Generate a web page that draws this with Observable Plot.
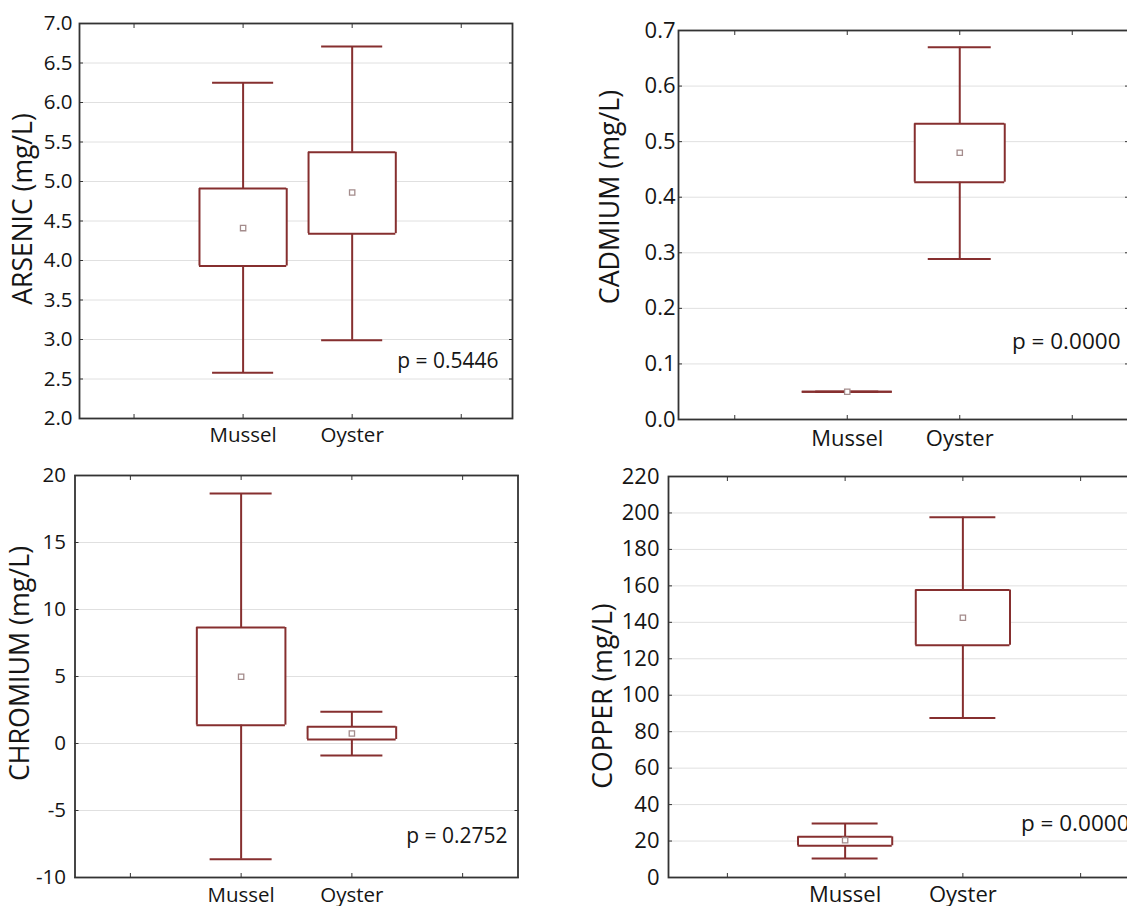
<!DOCTYPE html>
<html>
<head>
<meta charset="utf-8">
<script src="https://cdn.jsdelivr.net/npm/d3@7"></script>
<script src="https://cdn.jsdelivr.net/npm/@observablehq/plot@0.6"></script>
<style>
html, body { margin: 0; padding: 0; overflow: hidden; background: #fff; }
#wrap { position: relative; width: 1127px; height: 906px; overflow: hidden; background: #fff; }
.panel { position: absolute; }
</style>
</head>
<body>
<div id="wrap"></div>
<script>
// ---------- DATA ----------
const groups = ["Mussel", "Oyster"];
const xTickValues = [0, 1, 2, 3];
const xTickLabels = ["", "Mussel", "Oyster", ""];

const metals = ["ARSENIC", "CADMIUM", "CHROMIUM", "COPPER"];
const units = "(mg/L)";
const pValues = ["p = 0.5446", "p = 0.0000", "p = 0.2752", "p = 0.0000"];

// mean, box (low/high) and whisker (low/high) per group [Mussel, Oyster]
const arsenicMean      = [4.41, 4.86];
const arsenicBoxLow    = [3.93, 4.34];
const arsenicBoxHigh   = [4.91, 5.37];
const arsenicWhiskLow  = [2.58, 2.99];
const arsenicWhiskHigh = [6.25, 6.71];

const cadmiumMean      = [0.05, 0.480];
const cadmiumBoxLow    = [0.05, 0.427];
const cadmiumBoxHigh   = [0.05, 0.532];
const cadmiumWhiskLow  = [0.05, 0.289];
const cadmiumWhiskHigh = [0.05, 0.670];

const chromiumMean      = [4.98, 0.75];
const chromiumBoxLow    = [1.37, 0.30];
const chromiumBoxHigh   = [8.66, 1.25];
const chromiumWhiskLow  = [-8.63, -0.90];
const chromiumWhiskHigh = [18.66, 2.37];

const copperMean      = [20.5, 142.5];
const copperBoxLow    = [17.4, 127.4];
const copperBoxHigh   = [22.3, 157.7];
const copperWhiskLow  = [10.4, 87.5];
const copperWhiskHigh = [29.6, 197.7];

// y tick values
const arsenicTicks  = [2.0, 2.5, 3.0, 3.5, 4.0, 4.5, 5.0, 5.5, 6.0, 6.5, 7.0];
const cadmiumTicks  = [0.0, 0.1, 0.2, 0.3, 0.4, 0.5, 0.6, 0.7];
const chromiumTicks = [-10, -5, 0, 5, 10, 15, 20];
const copperTicks   = [0, 20, 40, 60, 80, 100, 120, 140, 160, 180, 200, 220];

// ---------- STYLE ----------
const LINE = "#862f2f";
const LW = 2;
const MEAN_STROKE = "#a48c8c";
const FRAME = "#333333";
const GRID = "#e0e0e0";
const TEXT = "#151515";
const FONT = "'Open Sans', sans-serif";
const BOX_HALF = 0.4;
const CAP_HALF = 0.28;

const oneDecimal = d => d.toFixed(1);
const integer = d => String(d);

function rowsFor(mean, bLo, bHi, wLo, wHi) {
  return groups.map((g, i) => ({
    group: g,
    pos: xTickLabels.indexOf(g),
    mean: mean[i], bLo: bLo[i], bHi: bHi[i], wLo: wLo[i], wHi: wHi[i]
  }));
}

const panels = [
  {
    metal: metals[0], p: pValues[0],
    rows: rowsFor(arsenicMean, arsenicBoxLow, arsenicBoxHigh, arsenicWhiskLow, arsenicWhiskHigh),
    yDomain: [2, 7], yTicks: arsenicTicks, yFormat: oneDecimal, xDomain: [-0.5, 3.47],
    left: 0, top: 0, width: 540, height: 455, mL: 79, mR: 28, mT: 23, mB: 37,
    fs: 20.5, labelFs: 26.5, yPad: 7, xPad: 8.5,
    labDx: -56, labDy: -12, pDx: -14, pDy: -57
  },
  {
    metal: metals[1], p: pValues[1],
    rows: rowsFor(cadmiumMean, cadmiumBoxLow, cadmiumBoxHigh, cadmiumWhiskLow, cadmiumWhiskHigh),
    yDomain: [0, 0.7], yTicks: cadmiumTicks, yFormat: oneDecimal, xDomain: [-0.5, 3.5],
    left: 560, top: 0, width: 600, height: 455, mL: 118, mR: 32, mT: 30, mB: 36,
    fs: 22, labelFs: 26.8, yPad: 3, xPad: 10.5,
    labDx: -68, labDy: -28, pDx: -8, pDy: -78
  },
  {
    metal: metals[2], p: pValues[2],
    rows: rowsFor(chromiumMean, chromiumBoxLow, chromiumBoxHigh, chromiumWhiskLow, chromiumWhiskHigh),
    yDomain: [-10, 20], yTicks: chromiumTicks, yFormat: integer, xDomain: [-0.5, 3.5],
    left: 0, top: 455, width: 545, height: 451, mL: 74.5, mR: 27.5, mT: 20, mB: 29,
    fs: 20.5, labelFs: 26.8, yPad: 9, xPad: 10,
    labDx: -54.5, labDy: -13, pDx: -10.5, pDy: -41
  },
  {
    metal: metals[3], p: pValues[3],
    rows: rowsFor(copperMean, copperBoxLow, copperBoxHigh, copperWhiskLow, copperWhiskHigh),
    yDomain: [0, 220], yTicks: copperTicks, yFormat: integer, xDomain: [-0.5, 3.5],
    left: 560, top: 455, width: 600, height: 451, mL: 108, mR: 21, mT: 21, mB: 29,
    fs: 22, labelFs: 26.5, yPad: 9, xPad: 8.5,
    labDx: -65, labDy: 19, pDx: -10, pDy: -54
  }
];

const wrap = document.getElementById("wrap");

for (const c of panels) {
  const rows = c.rows;
  const chart = Plot.plot({
    width: c.width,
    height: c.height,
    marginLeft: c.mL,
    marginRight: c.mR,
    marginTop: c.mT,
    marginBottom: c.mB,
    x: { domain: c.xDomain },
    y: { domain: c.yDomain },
    style: {
      fontFamily: FONT, fontSize: c.fs + "px", color: TEXT,
      background: "transparent", maxWidth: "none", overflow: "visible"
    },
    marks: [
      Plot.gridY(c.yTicks, { stroke: GRID, strokeOpacity: 1, strokeWidth: 1 }),
      // whisker stems
      Plot.ruleX(rows, { x: "pos", y1: "wLo", y2: "wHi", stroke: LINE, strokeWidth: LW }),
      // whisker caps
      Plot.ruleY(rows, { y: "wLo", x1: d => d.pos - CAP_HALF, x2: d => d.pos + CAP_HALF, stroke: LINE, strokeWidth: LW }),
      Plot.ruleY(rows, { y: "wHi", x1: d => d.pos - CAP_HALF, x2: d => d.pos + CAP_HALF, stroke: LINE, strokeWidth: LW }),
      // box fill
      Plot.rect(rows, { x1: d => d.pos - BOX_HALF, x2: d => d.pos + BOX_HALF, y1: "bLo", y2: "bHi", fill: "white" }),
      // box edges
      Plot.ruleY(rows, { y: "bLo", x1: d => d.pos - BOX_HALF, x2: d => d.pos + BOX_HALF, stroke: LINE, strokeWidth: LW }),
      Plot.ruleY(rows, { y: "bHi", x1: d => d.pos - BOX_HALF, x2: d => d.pos + BOX_HALF, stroke: LINE, strokeWidth: LW }),
      Plot.ruleX(rows, { x: d => d.pos - BOX_HALF, y1: "bLo", y2: "bHi", stroke: LINE, strokeWidth: LW }),
      Plot.ruleX(rows, { x: d => d.pos + BOX_HALF, y1: "bLo", y2: "bHi", stroke: LINE, strokeWidth: LW }),
      // mean marker
      Plot.dot(rows, { x: "pos", y: "mean", symbol: "square", r: 3, stroke: MEAN_STROKE, fill: "white", strokeWidth: 1.3 }),
      Plot.frame({ stroke: FRAME, strokeWidth: 1.8 }),
      // axes
      Plot.axisY(c.yTicks, { anchor: "left", tickSize: -4, tickPadding: c.yPad + 4, tickFormat: c.yFormat, label: null, stroke: FRAME }),
      Plot.axisY(c.yTicks, { anchor: "right", tickSize: -4, tickFormat: () => "", label: null, stroke: FRAME }),
      Plot.axisX(xTickValues, { anchor: "bottom", tickSize: -4, tickPadding: c.xPad + 4, tickFormat: d => xTickLabels[d], label: null, stroke: FRAME }),
      Plot.axisX(xTickValues, { anchor: "top", tickSize: -4, tickFormat: () => "", label: null, stroke: FRAME }),
      // y-axis title
      Plot.text([c.metal + " " + units], {
        text: d => d, frameAnchor: "left", rotate: -90, textAnchor: "middle", lineAnchor: "middle",
        dx: c.labDx, dy: c.labDy, fontSize: c.labelFs, fill: TEXT
      }),
      // p-value
      Plot.text([c.p], {
        text: d => d, frameAnchor: "bottom-right", textAnchor: "end", lineAnchor: "middle",
        dx: c.pDx, dy: c.pDy, fontSize: c.fs + 0.5, fill: TEXT
      })
    ]
  });
  chart.classList.add("panel");
  chart.style.left = c.left + "px";
  chart.style.top = c.top + "px";
  wrap.appendChild(chart);
}
</script>
</body>
</html>
